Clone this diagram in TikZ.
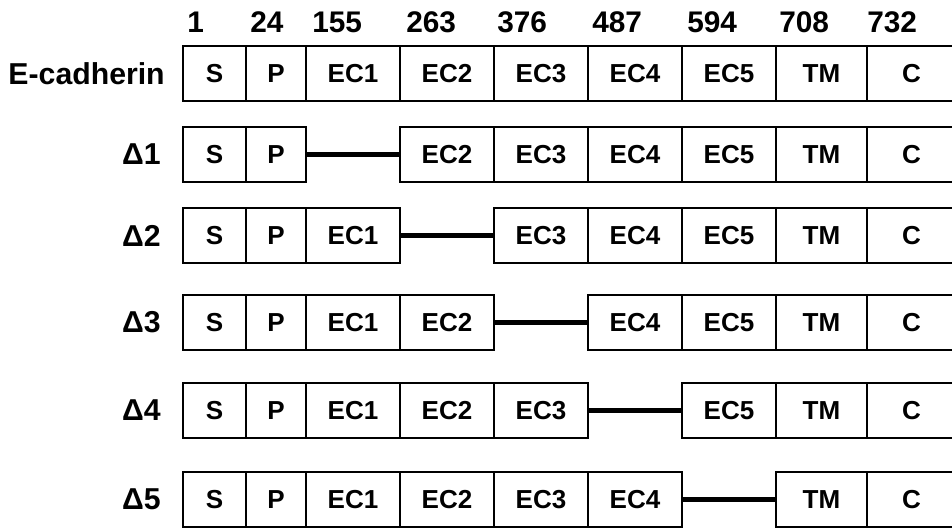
\documentclass[tikz,border=0pt]{standalone}
\usepackage{fontspec}
\setmainfont{Liberation Sans}

\begin{document}
\begin{tikzpicture}[
  x=0.025cm, y=-0.025cm,
  seg/.style={draw, line width=1.1pt, minimum height=1.375cm, inner sep=0pt,
    font=\fontsize{18.5}{20}\selectfont\bfseries},
  rowlabel/.style={anchor=east, inner sep=0pt,
    font=\fontsize{21.5}{24}\selectfont\bfseries},
  numlabel/.style={anchor=base west, inner sep=0pt,
    font=\fontsize{21.2}{24}\selectfont\bfseries},
  gap/.style={line width=3.8pt}
]
  \useasboundingbox (0,0) rectangle (952,527);

  %------------------------------------------------------------
  %  PARAMETERS
  %------------------------------------------------------------
  \def\halfh{27.5}   % half height of a domain box

  %------------------------------------------------------------
  %  RESIDUE NUMBERS (above the full-length row)
  %------------------------------------------------------------
  \foreach \num/\xn in {1/187, 24/250, 155/312, 263/406, 376/497,
                        487/592, 594/687, 708/779, 732/867} {
    \node[numlabel] (n\num) at (\xn,32) {\num};
  }

  %------------------------------------------------------------
  %  ROWS:  name / top / deleted domain / label x / label
  %------------------------------------------------------------
  \foreach \row/\ytop/\del/\lx/\lab in {WT/46/0/165/E-cadherin,
                                         D1/127/3/161/Δ1,
                                         D2/208/4/161/Δ2,
                                         D3/295/5/161/Δ3,
                                         D4/383/6/161/Δ4,
                                         D5/472/7/161/Δ5} {
    \node[rowlabel] (\row-lab) at ({\lx},{\ytop+\halfh}) {\lab};

    % domains S ... C, leaving out the deleted one
    \foreach \i/\seglab/\xl/\xr in {1/S/183/246, 2/P/246/306,
                                    3/EC1/306/400, 4/EC2/400/494,
                                    5/EC3/494/588, 6/EC4/588/682,
                                    7/EC5/682/776, 8/TM/776/867,
                                    9/C/867/956} {
      \ifnum\i=\del\relax\else
        \pgfmathsetmacro\w{(\xr-\xl)*0.025}
        \node[seg, minimum width=\w cm] (\row-\i)
          at ({(\xl+\xr)/2},{\ytop+\halfh}) {\seglab};
      \fi
    }

    % bar across the deletion
    \ifnum\del>0
      \pgfmathtruncatemacro\pre{\del-1}
      \pgfmathtruncatemacro\post{\del+1}
      \draw[gap] (\row-\pre.east) -- (\row-\post.west);
    \fi
  }

\end{tikzpicture}
\end{document}
